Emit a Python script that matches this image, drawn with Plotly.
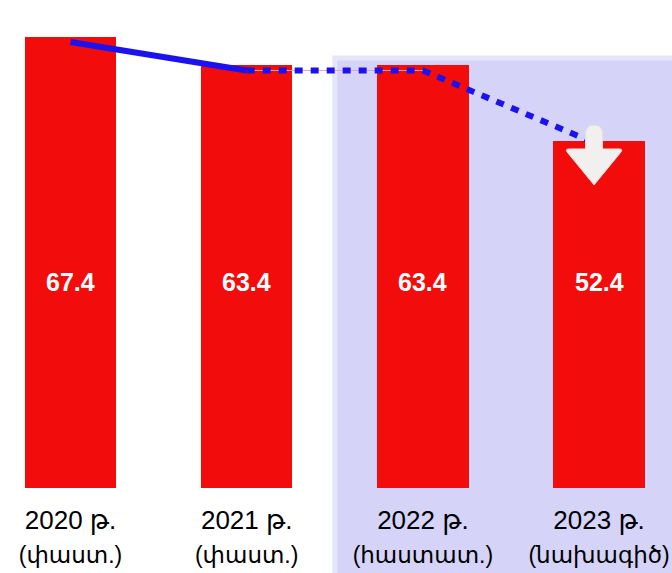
import plotly.graph_objects as go

# ---- data ----
categories = [0, 1, 2, 3]
tick_years = ["2020 թ.", "2021 թ.", "2022 թ.", "2023 թ."]
tick_status = ["(փաստ.)", "(փաստ.)", "(հաստատ.)", "(նախագիծ)"]
bar_values = [67.4, 63.4, 63.4, 52.4]
bar_labels = ["67.4", "63.4", "63.4", "52.4"]
trend_values = [66.7, 62.6, 62.6, 51.9]   # blue trend line as drawn

RED = "rgb(242,12,12)"
BLUE = "rgb(28,18,240)"
FONT = "Liberation Sans, Arial, Noto Sans, DejaVu Sans, sans-serif"

tick_labels = [f"{y}<br><span style='font-size:23px'>{s}</span>"
               for y, s in zip(tick_years, tick_status)]

fig = go.Figure()

fig.add_trace(go.Bar(
    x=categories, y=bar_values, width=0.52,
    marker=dict(color=RED, line=dict(width=0)),
    hoverinfo="skip", showlegend=False,
))

# thin pink guide under the dotted segment
fig.add_trace(go.Scatter(
    x=categories[1:3], y=trend_values[1:3], mode="lines",
    line=dict(color="rgb(240,160,175)", width=1),
    hoverinfo="skip", showlegend=False,
))
# solid part (actual)
fig.add_trace(go.Scatter(
    x=categories[0:2], y=trend_values[0:2], mode="lines",
    line=dict(color=BLUE, width=6),
    hoverinfo="skip", showlegend=False,
))
# dotted part (approved / projected)
fig.add_trace(go.Scatter(
    x=categories[1:4], y=trend_values[1:4], mode="lines",
    line=dict(color=BLUE, width=6, dash="8px,8px"),
    hoverinfo="skip", showlegend=False,
))

annotations = []
for c, lab in zip(categories, bar_labels):
    annotations.append(dict(
        x=c, y=0.422, xref="x", yref="paper", text="<b>" + lab + "</b>",
        showarrow=False, font=dict(family=FONT, size=25, color="white"),
    ))

# white down-arrow glyph (pixel-sized path anchored at the last bar)
cx = -5
arrow_path = (
    f"M{cx},0 L{cx-27},33 Q{cx-29},36 {cx-25},36 L{cx-8.5},36 L{cx-8.5},51.5 "
    f"Q{cx-8.5},60 {cx},60 Q{cx+8.5},60 {cx+8.5},51.5 L{cx+8.5},36 "
    f"L{cx+25},36 Q{cx+29},36 {cx+27},33 Z"
)

fig.update_layout(
    width=672, height=573,
    margin=dict(l=0, r=0, t=0, b=85),
    paper_bgcolor="white", plot_bgcolor="white",
    bargap=0,
    xaxis=dict(
        range=[-0.4, 3.414], tickvals=categories, ticktext=tick_labels,
        showgrid=False, zeroline=False, showline=False, ticks="",
        tickfont=dict(family=FONT, size=26, color="black"),
        ticklabeloverflow="allow", ticklabelstandoff=14,
        automargin=False, fixedrange=True,
    ),
    yaxis=dict(range=[2.46, 72.75], visible=False, automargin=False,
               fixedrange=True),
    shapes=[
        dict(
            type="rect", xref="x", yref="paper",
            x0=1.5, x1=3.6, y0=-0.2, y1=0.881,
            fillcolor="rgb(213,211,248)",
            line=dict(color="rgb(230,230,250)", width=5),
            layer="below",
        ),
        dict(
            type="path", xref="x", yref="paper",
            xsizemode="pixel", ysizemode="pixel",
            xanchor=categories[3], yanchor=0.621,
            path=arrow_path,
            fillcolor="rgb(242,240,238)",
            line=dict(color="rgb(225,222,222)", width=1),
            layer="above",
        ),
    ],
    annotations=annotations,
)

fig.write_html("out.html", config={"displayModeBar": False},
               post_script="document.body.style.margin='0';")
